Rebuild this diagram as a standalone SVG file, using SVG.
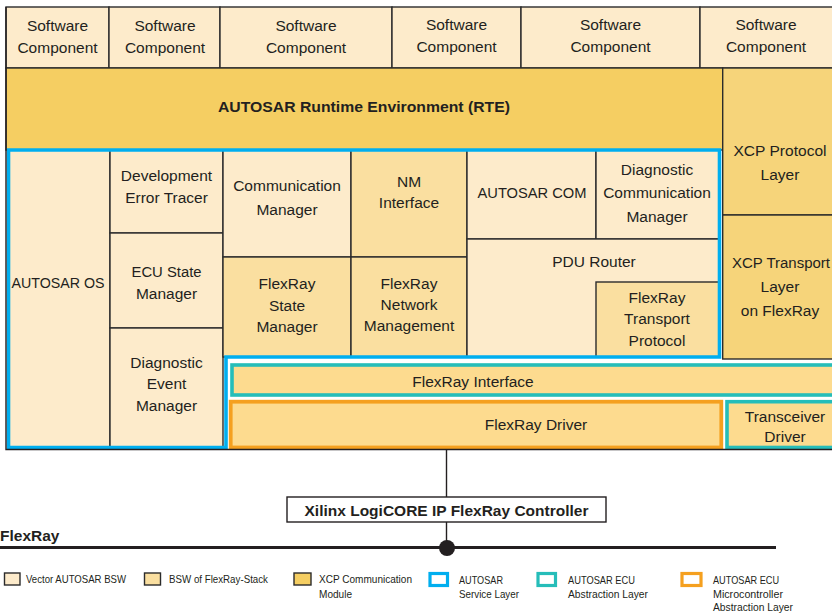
<svg xmlns="http://www.w3.org/2000/svg" width="832" height="613" viewBox="0 0 832 613">
  <style>
    text { font-family: "Liberation Sans", Arial, sans-serif; fill: #231f20; }
    .t { font-size: 15.5px; text-anchor: middle; }
    .b { font-weight: bold; }
    .box { stroke: #2b2b2b; stroke-width: 1.4; }
    .lt { fill: #fdebcb; }
    .md { fill: #fadfa0; }
    .xcp { fill: #f6d47a; }
    .rte { fill: #f5ce62; }
    .svc { fill: none; stroke: #00aeef; stroke-width: 3.6; }
    .ecu { fill: #fddb8f; stroke: #26bdb9; stroke-width: 3.6; }
    .mcal { fill: #fddb8f; stroke: #f5a01f; stroke-width: 3.8; }
    .wire { stroke: #231f20; stroke-width: 1.4; fill: none; }
    .lg { font-size: 11.5px; }
  </style>

  <rect width="832" height="613" fill="#ffffff"/>

  <!-- application layer -->
  <g id="swc1"><rect class="box lt" x="6" y="7" width="103" height="61"/><text class="t" x="57.5" y="31">Software</text><text class="t" x="57.5" y="53">Component</text></g>
  <g id="swc2"><rect class="box lt" x="109" y="7" width="111" height="61"/><text class="t" x="165" y="31">Software</text><text class="t" x="165" y="53">Component</text></g>
  <g id="swc3"><rect class="box lt" x="220" y="7" width="172" height="61"/><text class="t" x="306" y="31">Software</text><text class="t" x="306" y="53">Component</text></g>
  <g id="swc4"><rect class="box lt" x="392" y="7" width="129" height="61"/><text class="t" x="456.5" y="30">Software</text><text class="t" x="456.5" y="52">Component</text></g>
  <g id="swc5"><rect class="box lt" x="521" y="7" width="179" height="61"/><text class="t" x="610.5" y="30">Software</text><text class="t" x="610.5" y="52">Component</text></g>
  <g id="swc6"><rect class="box lt" x="700" y="7" width="140" height="61"/><text class="t" x="766" y="30">Software</text><text class="t" x="766" y="52">Component</text></g>

  <!-- runtime environment -->
  <g id="rte"><rect class="box rte" x="6" y="68" width="716.7" height="82"/><text class="t b" x="364" y="112" textLength="292" lengthAdjust="spacingAndGlyphs">AUTOSAR Runtime Environment (RTE)</text></g>

  <!-- XCP modules -->
  <g id="xcp-protocol"><rect class="box xcp" x="722.7" y="68" width="120" height="147"/><text class="t" x="780" y="156" textLength="93" lengthAdjust="spacingAndGlyphs">XCP Protocol</text><text class="t" x="780" y="180">Layer</text></g>
  <g id="xcp-transport"><rect class="box xcp" x="722.7" y="215" width="120" height="144"/><text class="t" x="781" y="268" textLength="98" lengthAdjust="spacingAndGlyphs">XCP Transport</text><text class="t" x="780" y="292">Layer</text><text class="t" x="780" y="316">on FlexRay</text></g>

  <!-- service layer modules -->
  <g id="os"><rect class="box lt" x="8.5" y="150" width="101.5" height="297.5"/><text class="t" x="58" y="288" textLength="93" lengthAdjust="spacingAndGlyphs">AUTOSAR OS</text></g>
  <g id="det"><rect class="box lt" x="110" y="150" width="113" height="83"/><text class="t" x="166.5" y="181">Development</text><text class="t" x="166.5" y="203">Error Tracer</text></g>
  <g id="ecum"><rect class="box lt" x="110" y="233" width="113" height="95"/><text class="t" x="166.5" y="277" textLength="70" lengthAdjust="spacingAndGlyphs">ECU State</text><text class="t" x="166.5" y="299">Manager</text></g>
  <g id="dem"><rect class="box lt" x="110" y="328" width="113" height="119.5"/><text class="t" x="166.5" y="368">Diagnostic</text><text class="t" x="166.5" y="389">Event</text><text class="t" x="166.5" y="411">Manager</text></g>
  <g id="comm"><rect class="box lt" x="223" y="150" width="128" height="107"/><text class="t" x="287" y="191">Communication</text><text class="t" x="287" y="215">Manager</text></g>
  <g id="nmif"><rect class="box md" x="351" y="150" width="116" height="107"/><text class="t" x="409" y="187">NM</text><text class="t" x="409" y="208">Interface</text></g>
  <g id="frsm"><rect class="box md" x="223" y="257" width="128" height="100"/><text class="t" x="287" y="289">FlexRay</text><text class="t" x="287" y="311">State</text><text class="t" x="287" y="332">Manager</text></g>
  <g id="frnm"><rect class="box md" x="351" y="257" width="116" height="100"/><text class="t" x="409" y="289">FlexRay</text><text class="t" x="409" y="310">Network</text><text class="t" x="409" y="331">Management</text></g>
  <g id="com"><rect class="box lt" x="467" y="150" width="129" height="89"/><text class="t" x="532" y="198" textLength="109" lengthAdjust="spacingAndGlyphs">AUTOSAR COM</text></g>
  <g id="dcm"><rect class="box lt" x="596" y="150" width="123.5" height="89"/><text class="t" x="657" y="175">Diagnostic</text><text class="t" x="657" y="198">Communication</text><text class="t" x="657" y="222">Manager</text></g>
  <g id="pdur"><rect class="box lt" x="467" y="239" width="252.5" height="118"/><text class="t" x="594" y="267">PDU Router</text></g>
  <g id="frtp"><rect class="box md" x="596" y="282" width="123.5" height="75"/><text class="t" x="657" y="303">FlexRay</text><text class="t" x="657" y="324">Transport</text><text class="t" x="657" y="346">Protocol</text></g>

  <!-- service layer outline -->
  <path id="service-layer" class="svc" d="M8.5,150 H719.5 V357 H226 V447.5 H8.5 Z"/>

  <!-- ECU abstraction and microcontroller abstraction -->
  <g id="frif"><rect class="ecu" x="232" y="365" width="610" height="30"/><text class="t" x="473" y="387">FlexRay Interface</text></g>
  <g id="frdrv"><rect class="mcal" x="230.7" y="401.7" width="490.6" height="45.8"/><text class="t" x="536" y="430">FlexRay Driver</text></g>
  <g id="trcv"><rect class="ecu" x="727" y="401.7" width="115" height="45.8"/><text class="t" x="785" y="422">Transceiver</text><text class="t" x="785" y="442">Driver</text></g>

  <!-- stack frame -->
  <path class="wire" d="M6,7 V449.5 H832"/>

  <!-- connectors -->
  <g id="connectors">
    <line class="wire" x1="446.5" y1="449.5" x2="446.5" y2="497"/>
    <line class="wire" x1="446.5" y1="522" x2="446.5" y2="547"/>
    <line x1="0" y1="547.5" x2="776" y2="547.5" stroke="#231f20" stroke-width="3"/>
    <circle cx="447" cy="548" r="8" fill="#231f20"/>
  </g>

  <g id="controller"><rect class="wire" x="287" y="497" width="319" height="25" fill="#ffffff"/><text class="t b" x="446.5" y="516">Xilinx LogiCORE IP FlexRay Controller</text></g>
  <g id="bus-label"><text class="b" x="0" y="541" font-size="15.5">FlexRay</text></g>

  <!-- legend -->
  <g id="legend">
    <rect class="box lt" x="4.5" y="573" width="15.5" height="12" stroke-width="1.2"/>
    <text class="lg" x="26" y="583" textLength="100" lengthAdjust="spacingAndGlyphs">Vector AUTOSAR BSW</text>
    <rect class="box md" x="144.5" y="573" width="16" height="12" stroke-width="1.2"/>
    <text class="lg" x="169" y="583" textLength="99" lengthAdjust="spacingAndGlyphs">BSW of FlexRay-Stack</text>
    <rect class="box rte" x="294" y="573" width="17" height="12" stroke-width="1.2"/>
    <text class="lg" x="319" y="583" textLength="93" lengthAdjust="spacingAndGlyphs">XCP Communication</text>
    <text class="lg" x="319" y="598" textLength="33" lengthAdjust="spacingAndGlyphs">Module</text>
    <rect x="430" y="573.5" width="17.5" height="12" fill="#ffffff" stroke="#00aeef" stroke-width="3.2"/>
    <text class="lg" x="459" y="584" textLength="44" lengthAdjust="spacingAndGlyphs">AUTOSAR</text>
    <text class="lg" x="459" y="598" textLength="60" lengthAdjust="spacingAndGlyphs">Service Layer</text>
    <rect x="538" y="573.5" width="17.5" height="12" fill="#ffffff" stroke="#26bdb9" stroke-width="3.2"/>
    <text class="lg" x="568" y="584" textLength="67" lengthAdjust="spacingAndGlyphs">AUTOSAR ECU</text>
    <text class="lg" x="568" y="598" textLength="80" lengthAdjust="spacingAndGlyphs">Abstraction Layer</text>
    <rect x="682" y="573.5" width="19" height="12" fill="#ffffff" stroke="#f5a01f" stroke-width="3.2"/>
    <text class="lg" x="713" y="584" textLength="66" lengthAdjust="spacingAndGlyphs">AUTOSAR ECU</text>
    <text class="lg" x="713" y="598" textLength="70" lengthAdjust="spacingAndGlyphs">Microcontroller</text>
    <text class="lg" x="713" y="611" textLength="80" lengthAdjust="spacingAndGlyphs">Abstraction Layer</text>
  </g>
</svg>
